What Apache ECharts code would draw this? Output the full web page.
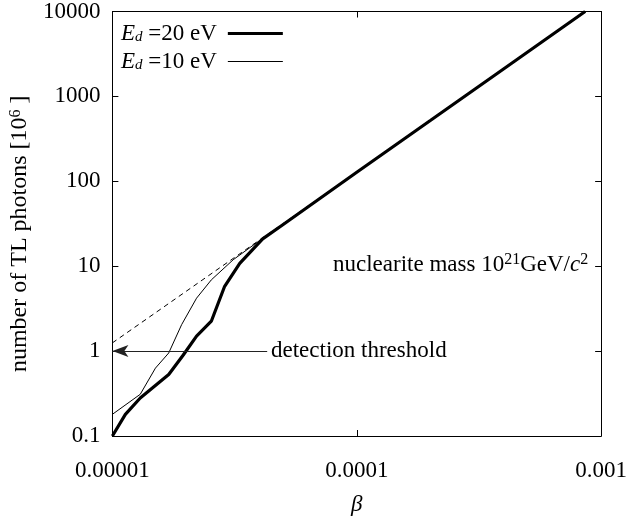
<!DOCTYPE html>
<html>
<head>
<meta charset="utf-8">
<script src="https://cdn.jsdelivr.net/npm/echarts@6/dist/echarts.min.js"></script>
<style>
  html, body { margin: 0; padding: 0; background: #fff; }
  #chart { width: 630px; height: 525px; }
</style>
</head>
<body>
<div id="chart"></div>
<script>
// data (beta, number of photons in 10^6)
var ed20 = [[1e-5, 0.1], [1.13e-5, 0.18], [1.3e-5, 0.28], [1.7e-5, 0.53], [1.95e-5, 0.9],
            [2.21e-5, 1.5], [2.54e-5, 2.25], [2.88e-5, 5.8], [3.32e-5, 10.8], [4.12e-5, 21],
            [5e-5, 31], [1e-4, 128], [2e-4, 520], [4e-4, 2120], [8.6e-4, 10000]];
var ed10 = [[1e-5, 0.18], [1.3e-5, 0.31], [1.5e-5, 0.63], [1.7e-5, 0.95], [1.92e-5, 2.05],
            [2.21e-5, 4.2], [2.54e-5, 6.9], [3.12e-5, 11.9], [4e-5, 20], [5e-5, 31],
            [1e-4, 128], [2e-4, 520], [4e-4, 2120], [8.6e-4, 10000]];
var limitLine = [[1e-5, 1.25], [8.7e-4, 10000]];
var threshold = [[4.3e-5, 1], [1e-5, 1]];
var xTicks = ['0.00001', '0.0001', '0.001'];
var yTicks = ['0.1', '1', '10', '100', '1000', '10000'];

var font = 'Liberation Serif';
var fs = 23;
var chart = echarts.init(document.getElementById('chart'));

function xLabel(v) { return xTicks[Math.round(Math.log10(v)) + 5]; }
function yLabel(v) { return yTicks[Math.round(Math.log10(v)) + 1]; }

var axisCommon = {
    type: 'log',
    logBase: 10,
    axisLine: { show: true, lineStyle: { color: '#000', width: 1 } },
    axisTick: { show: true, inside: true, length: 6, lineStyle: { color: '#000' } },
    splitLine: { show: false },
    minorTick: { show: false }
};

var option = {
    animation: false,
    backgroundColor: '#fff',
    color: ['#000'],
    grid: { left: 110, top: 9, width: 492, height: 427 },
    legend: {
        left: 116,
        top: 17,
        orient: 'vertical',
        align: 'right',
        itemWidth: 55,
        itemHeight: 14,
        itemGap: 5,
        data: [
            { name: '20', icon: 'path://M0,0H55V3H0Z' },
            { name: '10', icon: 'path://M0,0H55V1H0Z' }
        ],
        formatter: function (name) {
            return '{i|E}{s|d}{a| =' + name + ' eV}';
        },
        textStyle: {
            fontFamily: font,
            color: '#000',
            rich: {
                i: { fontFamily: font, fontSize: fs, fontStyle: 'italic', color: '#000', lineHeight: 22 },
                s: { fontFamily: font, fontSize: 15, fontStyle: 'italic', color: '#000', lineHeight: 22, verticalAlign: 'bottom' },
                a: { fontFamily: font, fontSize: fs, color: '#000', lineHeight: 22, padding: [0, 6, 0, 0] }
            }
        }
    },
    xAxis: [
        Object.assign({}, axisCommon, {
            min: 1e-5, max: 1e-3, position: 'bottom',
            axisLabel: { formatter: xLabel, fontFamily: font, fontSize: fs, color: '#000', margin: 23 },
            name: 'β',
            nameLocation: 'middle',
            nameGap: 57,
            nameTextStyle: { fontFamily: font, fontSize: fs, fontStyle: 'italic', color: '#000' }
        }),
        Object.assign({}, axisCommon, {
            min: 1e-5, max: 1e-3, position: 'top',
            axisLabel: { show: false }
        })
    ],
    yAxis: [
        Object.assign({}, axisCommon, {
            min: 0.1, max: 10000, position: 'left',
            axisLabel: { formatter: yLabel, fontFamily: font, fontSize: fs, color: '#000', margin: 12 },
            name: '{a|number of TL photons [10}{s|6}{e| ]}',
            nameLocation: 'middle',
            nameGap: 65,
            nameRotate: 90,
            nameTextStyle: {
                rich: {
                    a: { fontFamily: font, fontSize: 24, color: '#000', lineHeight: 24 },
                    s: { fontFamily: font, fontSize: 16, color: '#000', lineHeight: 24, verticalAlign: 'top' },
                    e: { fontFamily: font, fontSize: 24, color: '#000', lineHeight: 24, padding: [0, 20, 0, 0] }
                }
            }
        }),
        Object.assign({}, axisCommon, {
            min: 0.1, max: 10000, position: 'right',
            axisLabel: { show: false }
        })
    ],
    series: [
        {
            name: 'limit',
            type: 'line',
            data: limitLine,
            symbol: 'none',
            lineStyle: { color: '#000', width: 1, type: [5, 4] },
            z: 1
        },
        {
            name: '10',
            type: 'line',
            data: ed10,
            symbol: 'none',
            itemStyle: { color: '#000' },
            lineStyle: { color: '#000', width: 1 },
            z: 2
        },
        {
            name: '20',
            type: 'line',
            data: ed20,
            symbol: 'none',
            itemStyle: { color: '#000' },
            lineStyle: { color: '#000', width: 3.2 },
            z: 3
        },
        {
            name: 'threshold',
            type: 'line',
            data: [],
            symbol: 'none',
            markLine: {
                silent: true,
                symbol: ['none', 'arrow'],
                symbolSize: [9, 16],
                label: { show: false },
                lineStyle: { color: '#222', width: 1, type: 'solid' },
                data: [[{ coord: threshold[0] }, { coord: threshold[1] }]]
            }
        }
    ],
    graphic: [
        {
            type: 'text',
            left: 271,
            top: 339,
            style: { text: 'detection threshold', fontFamily: font, fontSize: fs, fill: '#000' }
        },
        {
            type: 'text',
            left: 333,
            top: 252,
            style: {
                text: '{a|nuclearite mass 10}{s|21}{a|GeV/}{i|c}{s|2}',
                rich: {
                    a: { fontFamily: font, fontSize: fs, fill: '#000', lineHeight: 26 },
                    i: { fontFamily: font, fontSize: fs, fontStyle: 'italic', fill: '#000', lineHeight: 26 },
                    s: { fontFamily: font, fontSize: 16, fill: '#000', lineHeight: 26, verticalAlign: 'top' }
                }
            }
        }
    ]
};

chart.setOption(option);
</script>
</body>
</html>
